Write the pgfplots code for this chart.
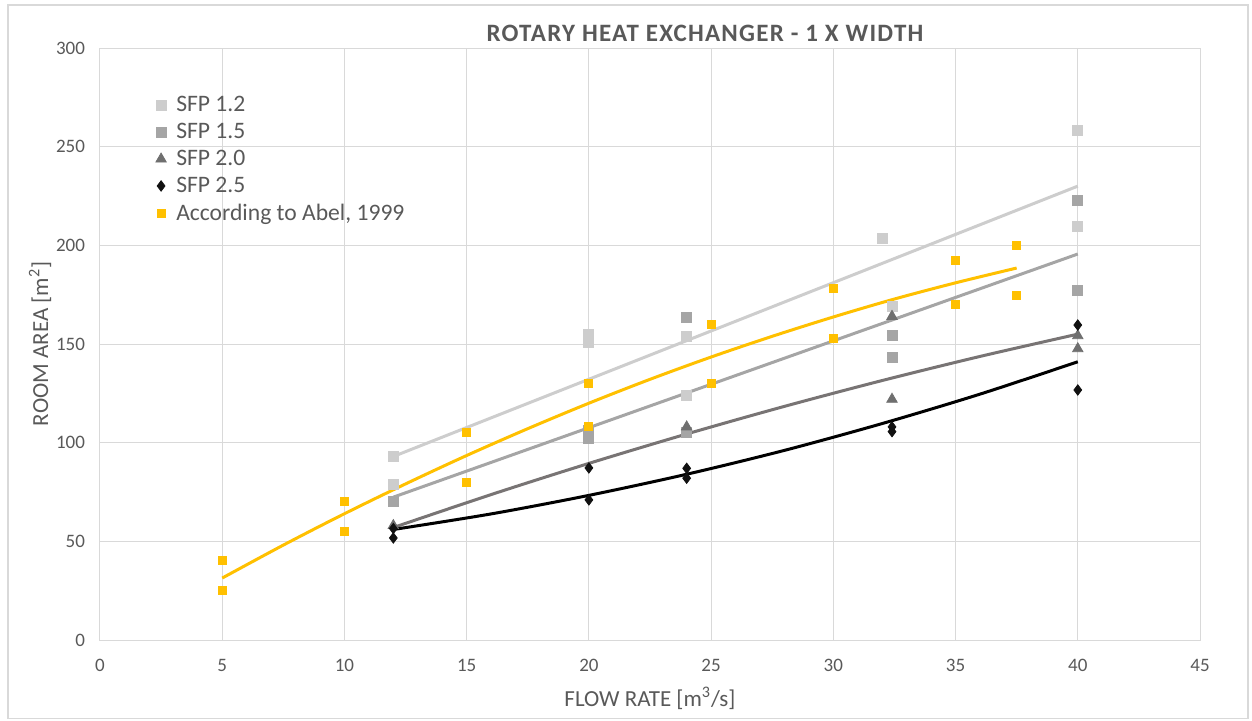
\documentclass[border=0pt]{standalone}
\usepackage{pgfplots}
\pgfplotsset{compat=1.18}
\usepackage{fontspec}
\setmainfont{Carlito}
\newfontfamily\titlefont[LetterSpace=5]{Carlito}
\definecolor{txt}{HTML}{595959}
\definecolor{gridc}{HTML}{D9D9D9}
\definecolor{sfpa}{HTML}{CDCDCD}
\definecolor{sfpb}{HTML}{A5A5A5}
\definecolor{sfpc}{HTML}{6F6F6F}
\definecolor{sfpcl}{HTML}{787474}
\definecolor{sfpd}{HTML}{111111}
\definecolor{abel}{HTML}{FFC000}
\begin{document}
\begin{tikzpicture}
\useasboundingbox (0,0) rectangle (626pt,360pt);
\draw[gridc, line width=0.6pt] (4pt,0.6pt) rectangle (624pt,357.5pt);
\begin{axis}[
  at={(50pt,40pt)}, anchor=south west,
  scale only axis, width=550pt, height=296pt,
  xmin=0, xmax=45, ymin=0, ymax=300,
  xtick={0,5,...,45}, ytick={0,50,...,300},
  grid=major, grid style={gridc, line width=0.5pt},
  axis line style={gridc, line width=0.5pt},
  major tick length=0pt,
  tick label style={font=\fontsize{9.5}{11}\selectfont, text=txt},
  /pgf/number format/assume math mode=true,
  xticklabel style={yshift=-6pt},
  yticklabel style={xshift=-4pt},
  xlabel={FLOW RATE [m\textsuperscript{3}/s]},
  ylabel={ROOM AREA [m\textsuperscript{2}]},
  label style={font=\fontsize{11.5}{13}\selectfont, text=txt},
  xlabel style={at={(axis description cs:0.5,-0.099)}, anchor=center},
  ylabel style={at={(axis description cs:-0.0545,0.5)}, anchor=center},
  title={ROTARY HEAT EXCHANGER - 1 X WIDTH},
  title style={font=\titlefont\bfseries\fontsize{12.5}{14}\selectfont, text=txt, at={(axis description cs:0.55,1.027)}, anchor=center, yshift=-6.5pt},
  legend style={draw=none, fill=none, at={(axis description cs:0.045,0.933)}, anchor=north west,
    font=\fontsize{11.8}{13.75}\selectfont, text=txt, row sep=0.3pt,
    nodes={inner xsep=5pt}},
  legend cell align=left,
]
% trend lines
\addplot[sfpa, line width=1.5pt, forget plot] coordinates {(12,93) (40,230)};
\addplot[sfpb, line width=1.5pt, forget plot] coordinates {(12,72.4) (40,195.6)};
\addplot[sfpcl, line width=1.5pt, smooth, forget plot] coordinates {(12,57.0) (16,73.7) (20,89.5) (24,104.4) (28,118.4) (32,131.5) (36,143.7) (40,155.0)};
\addplot[black, line width=1.5pt, smooth, forget plot] coordinates {(12,56.0) (16,63.9) (20,73.3) (24,84.0) (28,96.1) (32,109.7) (36,124.6) (40,141.0)};
\addplot[abel, line width=1.5pt, smooth, forget plot] coordinates {(5,31.4) (7.5,48.1) (10,64.0) (12.5,79.1) (15,93.5) (17.5,107.1) (20,120.0) (22.5,132.1) (25,143.4) (27.5,153.9) (30,163.7) (32.5,172.8) (35,181.0) (37.5,188.5)};
% data points
\addplot[only marks, mark=square*, mark size=2.5pt, mark options={fill=sfpa, draw=sfpa}] coordinates {
(12,93) (12,79) (20,155) (20,151) (24,154) (24,124) (32,203.5) (32.4,169) (40,258) (40,209.5)};
\addlegendentry{SFP 1.2}
\addplot[only marks, mark=square*, mark size=2.5pt, mark options={fill=sfpb, draw=sfpb}] coordinates {
(12,70.4) (20,106) (20,102) (24,163.5) (24,105) (32.4,154.6) (32.4,143) (40,223) (40,177)};
\addlegendentry{SFP 1.5}
\addplot[only marks, mark=triangle*, mark size=3pt, mark options={fill=sfpc, draw=sfpc}] coordinates {
(12,58) (24,108) (32.4,164) (32.4,122) (40,154.2) (40,147.6)};
\addlegendentry{SFP 2.0}
\addplot[only marks, mark=diamond*, mark size=2.6pt, mark options={fill=sfpd, draw=sfpd}] coordinates {
(12,56.5) (12,51.7) (20,87.2) (20,71) (24,87) (24,82) (32.4,108) (32.4,105.6) (40,159.6) (40,126.7)};
\addlegendentry{SFP 2.5}
\addplot[only marks, mark=square*, mark size=2pt, mark options={fill=abel, draw=abel}] coordinates {
(5,40.2) (5,25) (10,70) (10,55) (15,105) (15,80) (20,130) (20,108) (25,160) (25,130) (30,178.2) (30,152.9) (35,192.2) (35,170.1) (37.5,200.2) (37.5,174.8)};
\addlegendentry{According to Abel, 1999}
\end{axis}
\end{tikzpicture}
\end{document}
